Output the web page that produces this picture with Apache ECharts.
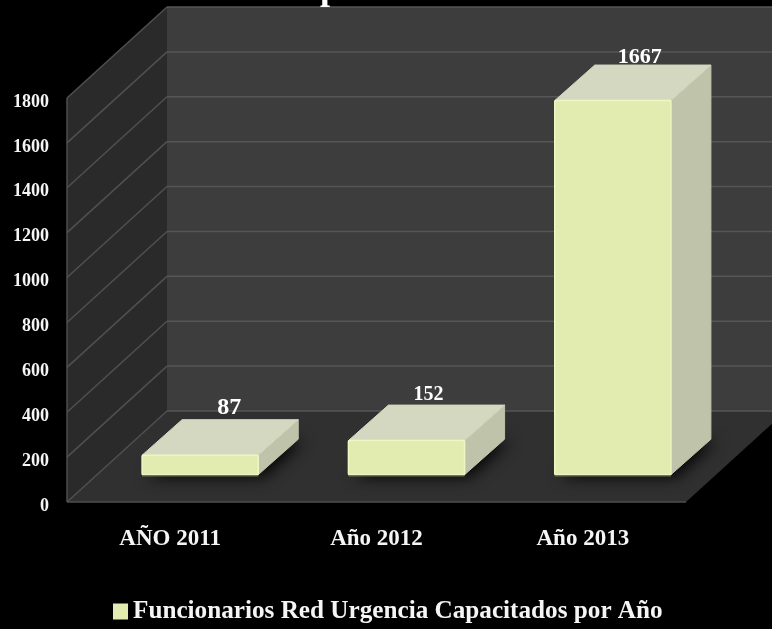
<!DOCTYPE html>
<html>
<head>
<meta charset="utf-8">
<style>
    html, body { margin: 0; padding: 0; background: #000; }
    #main { width: 772px; height: 629px; }
</style>
<script src="https://cdn.jsdelivr.net/npm/echarts@6/dist/echarts.min.js"></script>
</head>
<body>
<div id="main"></div>
<script>
const categories = ['AÑO 2011', 'Año 2012', 'Año 2013'];
const funcionarios = [87, 152, 1667];
const yTicks = [0, 200, 400, 600, 800, 1000, 1200, 1400, 1600, 1800];
const seriesName = 'Funcionarios Red Urgencia Capacitados por Año';

const FONT = '"Liberation Serif", serif';
// profundidad de la caja 3D
const DEPTH_X = 100;
const DEPTH_Y = -91;
// ajuste de cada etiqueta sobre la barra
const LABEL_NUDGE = [[59, -12, 24], [52, -10, 20], [57, -8, 22]];

const chart = echarts.init(document.getElementById('main'), null, { renderer: 'canvas' });

function poly(points, fill, z2, extra) {
    return {
        type: 'polygon',
        z2: z2,
        shape: { points: points },
        style: Object.assign({ fill: fill }, extra || {})
    };
}

function line(x1, y1, x2, y2, color, z2) {
    return {
        type: 'line',
        z2: z2,
        shape: { x1: x1, y1: y1, x2: x2, y2: y2 },
        style: { stroke: color, lineWidth: 1.5 }
    };
}

// paredes, piso y lineas de la grilla
function renderWalls(params, api) {
    const cs = params.coordSys;
    const left = cs.x, right = cs.x + cs.width;
    const tick = api.value(0);
    const y = api.coord([0, tick])[1];
    const children = [];
    if (params.dataIndex === 0) {
        const y0 = y;
        const yTop = api.coord([0, yTicks[yTicks.length - 1]])[1];
        children.push(poly([[left, y0], [left, yTop], [left + DEPTH_X, yTop + DEPTH_Y], [left + DEPTH_X, y0 + DEPTH_Y]], '#2a2a2a', 1));
        children.push(poly([[left + DEPTH_X, y0 + DEPTH_Y], [left + DEPTH_X, yTop + DEPTH_Y], [right + DEPTH_X, yTop + DEPTH_Y], [right + DEPTH_X, y0 + DEPTH_Y]], '#3d3d3d', 1));
        children.push(poly([[left, y0], [right, y0], [right + DEPTH_X, y0 + DEPTH_Y], [left + DEPTH_X, y0 + DEPTH_Y]], '#303030', 2));
        children.push(line(left, y0, left, yTop, '#4e4e4e', 3));
        children.push(line(left, y0, right, y0, '#4e4e4e', 3));
    }
    children.push(line(left, y, left + DEPTH_X, y + DEPTH_Y, '#505050', 3));
    children.push(line(left + DEPTH_X, y + DEPTH_Y, right + DEPTH_X, y + DEPTH_Y, '#565656', 3));
    return { type: 'group', children: children };
}

// barra 3D: cara frontal, superior, lateral y sombra
function renderBar(params, api) {
    const idx = api.value(0);
    const center = api.coord([idx, 0]);
    const top = api.coord([idx, api.value(1)]);
    const band = api.size([1, 0])[0];
    const w = band * 0.563;
    const x0 = center[0] - w / 2 + DEPTH_X * 0.3;
    const x1 = x0 + w;
    const yBase = center[1] + DEPTH_Y * 0.3;
    const yTop = top[1] + DEPTH_Y * 0.3;
    const dx = DEPTH_X * 0.4;
    const dy = DEPTH_Y * 0.39;
    const nudge = LABEL_NUDGE[idx];
    return {
        type: 'group',
        children: [
            poly([[x0, yBase], [x1, yBase], [x1 + dx, yBase + dy], [x0 + dx, yBase + dy]], '#181818', 4, {
                shadowBlur: 16, shadowColor: 'rgba(0,0,0,0.95)', shadowOffsetX: 5, shadowOffsetY: 2
            }),
            poly([[x1, yBase], [x1, yTop], [x1 + dx, yTop + dy], [x1 + dx, yBase + dy]], '#bfc3a9', 5, {
                stroke: '#bfc3a9', lineWidth: 1, lineJoin: 'round'
            }),
            poly([[x0, yTop], [x1, yTop], [x1 + dx, yTop + dy], [x0 + dx, yTop + dy]], '#d5d8c0', 5, {
                stroke: '#d5d8c0', lineWidth: 1, lineJoin: 'round'
            }),
            {
                type: 'rect',
                z2: 6,
                shape: { x: x0, y: yTop, width: w, height: yBase - yTop, r: 1 },
                style: { fill: '#e2ecb0', stroke: '#eef6c2', lineWidth: 1.5 }
            },
            line(x0, yBase + 1, x1, yBase + 1, '#6f7550', 6),
            {
                type: 'text',
                z2: 8,
                style: {
                    x: center[0] + nudge[0],
                    y: yTop + dy + nudge[1],
                    text: String(api.value(1)),
                    fill: '#ffffff',
                    font: 'bold ' + nudge[2] + 'px ' + FONT,
                    align: 'center',
                    verticalAlign: 'middle'
                }
            }
        ]
    };
}

chart.setOption({
    backgroundColor: '#000000',
    animation: false,
    title: {
        text: 'p',
        left: 315,
        top: -33,
        textStyle: { color: '#ffffff', fontFamily: FONT, fontWeight: 'bold', fontSize: 36 }
    },
    legend: {
        left: 108,
        top: 594,
        icon: 'rect',
        itemWidth: 15,
        itemHeight: 16,
        itemGap: 0,
        data: [seriesName],
        textStyle: { color: '#f5f5f5', fontFamily: FONT, fontWeight: 'bold', fontSize: 25.2 }
    },
    grid: { left: 67, right: 86, top: 98, bottom: 127 },
    xAxis: {
        type: 'category',
        data: categories,
        axisLine: { show: false },
        axisTick: { show: false },
        axisLabel: { color: '#f5f5f5', fontFamily: FONT, fontWeight: 'bold', fontSize: 23, margin: 26 }
    },
    yAxis: {
        type: 'value',
        min: 0,
        max: 1800,
        interval: 200,
        axisLine: { show: false },
        axisTick: { show: false },
        splitLine: { show: false },
        axisLabel: {
            color: '#f5f5f5', fontFamily: FONT, fontWeight: 'bold', fontSize: 18, margin: 18,
            verticalAlign: 'top',
            lineHeight: 8,
            formatter: function (v) { return String(v); }
        }
    },
    series: [
        {
            type: 'custom',
            name: 'grilla',
            silent: true,
            clip: false,
            z: 1,
            renderItem: renderWalls,
            encode: { y: 0 },
            data: yTicks.map(function (t) { return [t]; })
        },
        {
            type: 'custom',
            name: seriesName,
            clip: false,
            z: 2,
            itemStyle: { color: '#e2ecb0' },
            renderItem: renderBar,
            encode: { x: 0, y: 1 },
            data: funcionarios.map(function (v, i) { return [i, v]; })
        }
    ]
});
</script>
</body>
</html>
